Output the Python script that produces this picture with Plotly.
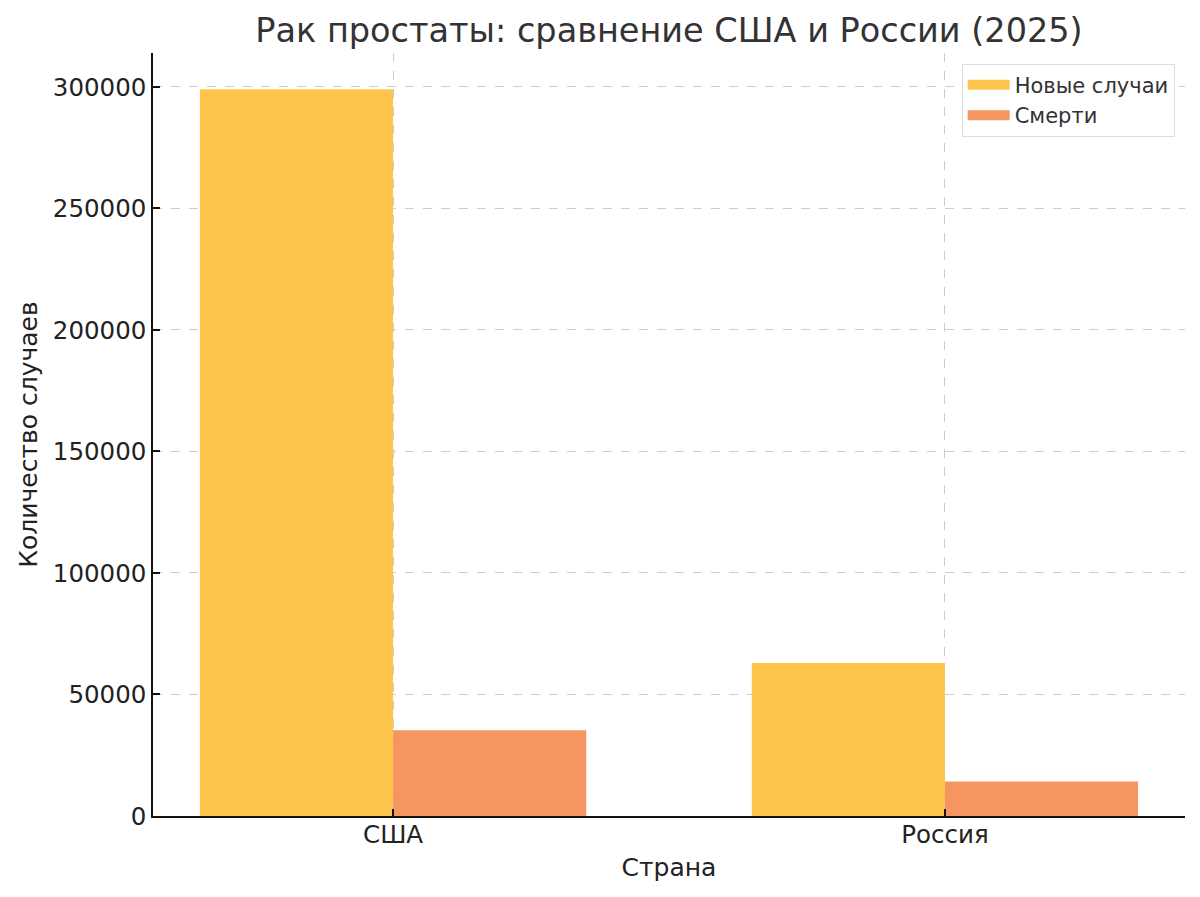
import plotly.graph_objects as go

countries = ["США", "Россия"]
new_cases = [299010, 63000]
deaths = [35250, 14200]
series_names = ["Новые случаи", "Смерти"]
colors = ["#FDC54C", "#F59661"]
y_ticks = [0, 50000, 100000, 150000, 200000, 250000, 300000]

font_family = "DejaVu Sans"

fig = go.Figure()
for name, vals, col in zip(series_names, [new_cases, deaths], colors):
    fig.add_trace(go.Bar(x=countries, y=vals, name=name, legendgroup=name,
                         showlegend=False,
                         marker=dict(color=col, line=dict(width=0))))
# legend swatches (wide rectangles like the reference)
for name, col in zip(series_names, colors):
    fig.add_trace(go.Scatter(x=[None], y=[None], mode="lines", name=name,
                             legendgroup=name,
                             line=dict(color=col, width=13)))

fig.update_layout(
    width=1192, height=889,
    barmode="group", bargap=0.3, bargroupgap=0,
    plot_bgcolor="white", paper_bgcolor="white",
    margin=dict(l=145, r=15, t=45, b=81),
    font=dict(family=font_family, color="#222222", size=25),
    title=dict(text="Рак простаты: сравнение США и России (2025)",
               x=0.5, xref="paper", xanchor="center", y=0.975, yanchor="middle",
               font=dict(size=33.5, color="#333333")),
    legend=dict(x=0.99, y=0.986, xanchor="right", yanchor="top",
                bgcolor="rgba(255,255,255,0.8)", bordercolor="#DDDDDD", borderwidth=1,
                font=dict(size=21, color="#333333"), tracegroupgap=0, itemwidth=42),
    xaxis=dict(range=[-0.435, 1.435], showline=True, linecolor="#111111", linewidth=1.5,
               ticks="inside", ticklen=7, tickwidth=1.5, tickcolor="#111111",
               ticklabelstandoff=-4,
               showgrid=True, gridcolor="#CCCCCC", griddash="dash", gridwidth=1,
               tickfont=dict(size=24.5, color="#222222"),
               title=dict(text="Страна", font=dict(size=25, color="#222222"), standoff=10)),
    yaxis=dict(range=[0, 313960], showline=True, linecolor="#111111", linewidth=1.5,
               ticks="inside", ticklen=7, tickwidth=1.5, tickcolor="#111111",
               tickvals=y_ticks, ticktext=[str(v) for v in y_ticks],
               showgrid=True, gridcolor="#CCCCCC", griddash="dash", gridwidth=1,
               zeroline=False,
               tickfont=dict(size=24.5, color="#222222"),
               title=dict(text="Количество случаев", font=dict(size=25, color="#222222"), standoff=8)),
)

fig.write_html("out.html")
